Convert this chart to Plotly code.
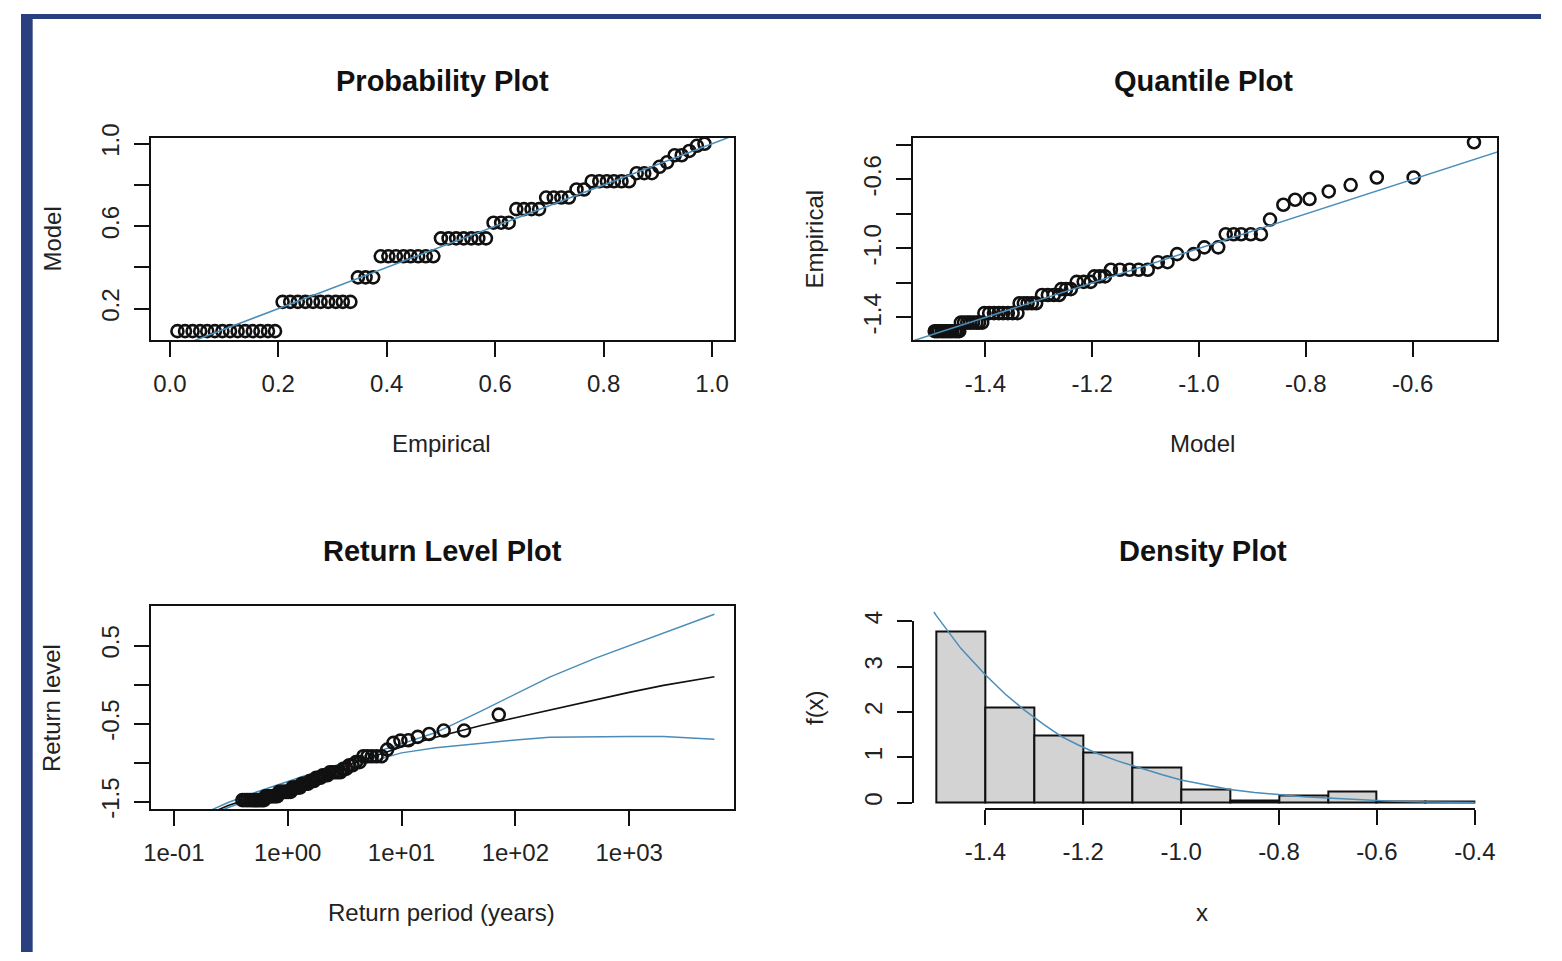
import plotly.graph_objects as go

W, H = 1562, 961

# ---------------- data ----------------
# Probability plot: empirical plotting positions vs fitted model probabilities
pp_empirical = [0.014, 0.028, 0.042, 0.056, 0.069, 0.083, 0.097, 0.111, 0.125, 0.139,
                0.153, 0.167, 0.181, 0.194, 0.208, 0.222, 0.236, 0.250, 0.264, 0.278,
                0.292, 0.306, 0.319, 0.333, 0.347, 0.361, 0.375, 0.389, 0.403, 0.417,
                0.431, 0.444, 0.458, 0.472, 0.486, 0.500, 0.514, 0.528, 0.542, 0.556,
                0.569, 0.583, 0.597, 0.611, 0.625, 0.639, 0.653, 0.667, 0.681, 0.694,
                0.708, 0.722, 0.736, 0.750, 0.764, 0.778, 0.792, 0.806, 0.819, 0.833,
                0.847, 0.861, 0.875, 0.889, 0.903, 0.917, 0.931, 0.944, 0.958, 0.972,
                0.986]
pp_model = [0.091] * 14 + [0.233] * 10 + [0.352] * 3 + [0.454] * 8 + [0.541] * 7 + \
           [0.617] * 3 + [0.683] * 4 + [0.739] * 4 + [0.778] * 2 + [0.818] * 6 + \
           [0.857] * 3 + [0.888, 0.910, 0.944, 0.944, 0.965, 0.990, 1.000]

# Quantile plot: fitted model quantiles vs sorted observations
qq_model = [-1.495, -1.491, -1.487, -1.482, -1.478, -1.474, -1.470, -1.466, -1.462, -1.457,
            -1.453, -1.449,
            -1.446, -1.440, -1.434, -1.429, -1.423, -1.417, -1.412, -1.406,
            -1.402, -1.393, -1.384, -1.375, -1.367, -1.358, -1.349, -1.340,
            -1.336, -1.328, -1.321, -1.313, -1.305,
            -1.294, -1.283, -1.272, -1.262,
            -1.258, -1.249, -1.240,
            -1.229, -1.216, -1.203,
            -1.196, -1.186, -1.176,
            -1.165, -1.148, -1.130, -1.113, -1.096,
            -1.077, -1.059,
            -1.041, -1.010,
            -0.990, -0.964,
            -0.950, -0.935, -0.921, -0.903, -0.884,
            -0.867, -0.842, -0.820, -0.793, -0.757, -0.716, -0.667, -0.598, -0.485]
qq_empirical = [-1.480] * 12 + [-1.430] * 8 + [-1.375] * 8 + [-1.318] * 5 + [-1.270] * 4 + \
               [-1.236] * 3 + [-1.194] * 3 + [-1.162] * 3 + [-1.124] * 5 + [-1.080] * 2 + \
               [-1.033] * 2 + [-0.994] * 2 + [-0.918] * 5 + \
               [-0.833, -0.747, -0.718, -0.714, -0.670, -0.633, -0.589, -0.589, -0.385]

# Return level plot: observations at their return periods, fitted curve and 95% bounds
rl_obs_period = [0.40, 0.42, 0.44, 0.46, 0.48, 0.50, 0.52, 0.54, 0.56, 0.58,
                 0.60, 0.62, 0.64, 0.66, 0.68, 0.70, 0.72, 0.75, 0.78, 0.81,
                 0.84, 0.87, 0.90, 0.93, 0.96, 0.99, 1.02, 1.06, 1.100, 1.142,
                 1.187, 1.233, 1.282, 1.333, 1.386, 1.443, 1.502, 1.565, 1.631, 1.701,
                 1.776, 1.855, 1.940, 2.031, 2.128, 2.232, 2.344, 2.466, 2.598, 2.742,
                 2.899, 3.072, 3.264, 3.476, 3.712, 3.979, 4.281, 4.623, 5.020, 5.483,
                 6.031, 6.685, 7.485, 8.489, 9.775, 11.49, 13.89, 17.48, 23.47, 35.46,
                 71.50]
rl_obs_level = qq_empirical
rl_period = [0.2, 0.3, 0.5, 1, 2, 5, 10, 20, 50, 100, 200, 500, 1000, 2000, 5600]
rl_level = [-1.66, -1.55, -1.44, -1.29, -1.15, -0.95, -0.80, -0.675, -0.525, -0.425,
            -0.325, -0.20, -0.10, -0.01, 0.10]
rl_upper = [-1.625, -1.51, -1.39, -1.24, -1.09, -0.90, -0.76, -0.615, -0.34, -0.12,
            0.095, 0.335, 0.495, 0.655, 0.90]
rl_lower = [-1.69, -1.575, -1.46, -1.325, -1.19, -1.00, -0.875, -0.81, -0.75, -0.71,
            -0.675, -0.665, -0.665, -0.665, -0.70]

# Density plot: histogram of the observations and fitted density
hist_left = [-1.5, -1.4, -1.3, -1.2, -1.1, -1.0, -0.9, -0.8, -0.7, -0.6, -0.5]
hist_density = [3.78, 2.09, 1.48, 1.10, 0.77, 0.28, 0.04, 0.16, 0.25, 0.02, 0.02]
dens_x = [-1.505, -1.5, -1.45, -1.4, -1.36, -1.32, -1.28, -1.245, -1.21, -1.175, -1.13,
          -1.08, -1.04, -1.0, -0.95, -0.9, -0.85, -0.8, -0.75, -0.7, -0.64, -0.58, -0.5, -0.4]
dens_y = [4.20, 4.12, 3.40, 2.82, 2.40, 2.04, 1.72, 1.46, 1.27, 1.10, 0.92,
          0.75, 0.62, 0.50, 0.39, 0.29, 0.225, 0.17, 0.13, 0.10, 0.065, 0.035, 0.015, 0.005]

# ---------------- styling ----------------
FONT = "Liberation Sans, Arial, Helvetica, sans-serif"
INK = "#111111"
FIT = "#4a8db8"
FRAME = "#2a3f7f"


def px_x(p):
    return p / W


def px_y(p):
    return 1 - p / H


def axis_style(**kw):
    base = dict(showgrid=False, zeroline=False, showline=True, linecolor=INK, linewidth=2,
                mirror=True, ticks="outside", ticklen=15, tickwidth=2, tickcolor=INK,
                tickfont=dict(family=FONT, size=24, color="#222222"),
                ticklabelstandoff=6)
    base.update(kw)
    return base


marker = dict(symbol="circle-open", size=12, color=INK, line=dict(width=2.6, color=INK))

fig = go.Figure()

# Probability plot
fig.add_trace(go.Scatter(x=pp_empirical, y=pp_model, mode="markers", marker=marker,
                         xaxis="x", yaxis="y"))
fig.add_trace(go.Scatter(x=[-0.1, 1.1], y=[-0.1, 1.1], mode="lines",
                         line=dict(color=FIT, width=1.5), xaxis="x", yaxis="y"))

# Quantile plot
fig.add_trace(go.Scatter(x=qq_model, y=qq_empirical, mode="markers", marker=marker,
                         xaxis="x2", yaxis="y2"))
fig.add_trace(go.Scatter(x=[-1.7, -0.3], y=[-1.7, -0.3], mode="lines",
                         line=dict(color=FIT, width=1.5), xaxis="x2", yaxis="y2"))

# Return level plot
fig.add_trace(go.Scatter(x=rl_period, y=rl_upper, mode="lines", line=dict(color=FIT, width=1.5),
                         xaxis="x3", yaxis="y3"))
fig.add_trace(go.Scatter(x=rl_period, y=rl_lower, mode="lines", line=dict(color=FIT, width=1.5),
                         xaxis="x3", yaxis="y3"))
fig.add_trace(go.Scatter(x=rl_period, y=rl_level, mode="lines", line=dict(color=INK, width=1.6),
                         xaxis="x3", yaxis="y3"))
fig.add_trace(go.Scatter(x=rl_obs_period, y=rl_obs_level, mode="markers", marker=marker,
                         xaxis="x3", yaxis="y3"))

# Density plot
fig.add_trace(go.Bar(x=hist_left, y=hist_density, width=0.1, offset=0,
                     marker=dict(color="#d3d3d3", line=dict(color=INK, width=2)),
                     xaxis="x4", yaxis="y4"))
fig.add_trace(go.Scatter(x=dens_x, y=dens_y, mode="lines", line=dict(color=FIT, width=1.5),
                         xaxis="x4", yaxis="y4"))
fig.add_trace(go.Scatter(x=[None], y=[None], mode="markers", xaxis="x5", yaxis="y5"))

top = [px_y(334), px_y(127)]
bottom = [px_y(815), px_y(607)]
left = [px_x(134), px_x(733)]
right = [px_x(917), px_x(1517)]

fig.update_layout(
    width=W, height=H, margin=dict(l=0, r=0, t=0, b=0),
    paper_bgcolor="white", plot_bgcolor="rgba(0,0,0,0)", showlegend=False, bargap=0,
    font=dict(family=FONT, size=24, color="#222222"),
    xaxis=axis_style(domain=left, anchor="y", range=[-0.034, 1.041],
                     tickvals=[0, 0.2, 0.4, 0.6, 0.8, 1.0],
                     ticktext=["0.0", "0.2", "0.4", "0.6", "0.8", "1.0"]),
    yaxis=axis_style(domain=top, anchor="x", range=[0.048, 1.028], tickangle=-90,
                     tickvals=[0.2, 0.4, 0.6, 0.8, 1.0],
                     ticktext=["0.2", "", "0.6", "", "1.0"]),
    xaxis2=axis_style(domain=right, anchor="y2", range=[-1.535, -0.4415],
                      tickvals=[-1.4, -1.2, -1.0, -0.8, -0.6],
                      ticktext=["-1.4", "-1.2", "-1.0", "-0.8", "-0.6"]),
    yaxis2=axis_style(domain=top, anchor="x2", range=[-1.531, -0.36], tickangle=-90,
                      tickvals=[-1.4, -1.2, -1.0, -0.8, -0.6, -0.4],
                      ticktext=["-1.4", "", "-1.0", "", "-0.6", ""]),
    xaxis3=axis_style(domain=left, anchor="y3", type="log", range=[-1.197, 3.923],
                      tickvals=[0.1, 1, 10, 100, 1000],
                      ticktext=["1e-01", "1e+00", "1e+01", "1e+02", "1e+03"]),
    yaxis3=axis_style(domain=bottom, anchor="x3", range=[-1.6, 1.0], tickangle=-90,
                      tickvals=[-1.5, -1.0, -0.5, 0.0, 0.5],
                      ticktext=["-1.5", "", "-0.5", "", "0.5"]),
    xaxis4=dict(domain=right, anchor="y4", range=[-1.547, -0.354], visible=False),
    yaxis4=dict(domain=bottom, anchor="x4", range=[-0.1505, 4.3226], visible=False),
    xaxis5=axis_style(domain=[px_x(991), px_x(1494)], anchor="free", position=px_y(815),
                      range=[-1.4, -0.4], mirror=False,
                      tickvals=[-1.4, -1.2, -1.0, -0.8, -0.6, -0.4],
                      ticktext=["-1.4", "-1.2", "-1.0", "-0.8", "-0.6", "-0.4"]),
    yaxis5=axis_style(domain=[px_y(808), px_y(622)], anchor="free", position=px_x(917),
                      range=[0, 4], mirror=False, tickangle=-90,
                      tickvals=[0, 1, 2, 3, 4], ticktext=["0", "1", "2", "3", "4"]),
)

# window frame
fig.add_shape(type="rect", xref="paper", yref="paper", x0=0, x1=px_x(12), y0=0, y1=1,
              fillcolor=FRAME, line=dict(width=0), layer="above")
fig.add_shape(type="rect", xref="paper", yref="paper", x0=0, x1=1, y0=px_y(5), y1=1,
              fillcolor=FRAME, line=dict(width=0), layer="above")


def label(text, cx, cy, size=24, bold=False, angle=0):
    fig.add_annotation(text=f"<b>{text}</b>" if bold else text, xref="paper", yref="paper",
                       x=px_x(cx), y=px_y(cy), xanchor="center", yanchor="middle",
                       showarrow=False, textangle=angle,
                       font=dict(family=FONT, size=size, color="#111111" if bold else "#222222"))


label("Probability Plot", 433, 69, size=29, bold=True)
label("Quantile Plot", 1215, 69, size=29, bold=True)
label("Return Level Plot", 433, 550, size=29, bold=True)
label("Density Plot", 1215, 550, size=29, bold=True)
label("Empirical", 432, 440)
label("Model", 1214, 440)
label("Return period (years)", 432, 921)
label("x", 1214, 921)
label("Model", 32, 231, angle=-90)
label("Empirical", 815, 231, angle=-90)
label("Return level", 32, 711, angle=-90)
label("f(x)", 816, 711, angle=-90)

fig.write_html("out.html")
